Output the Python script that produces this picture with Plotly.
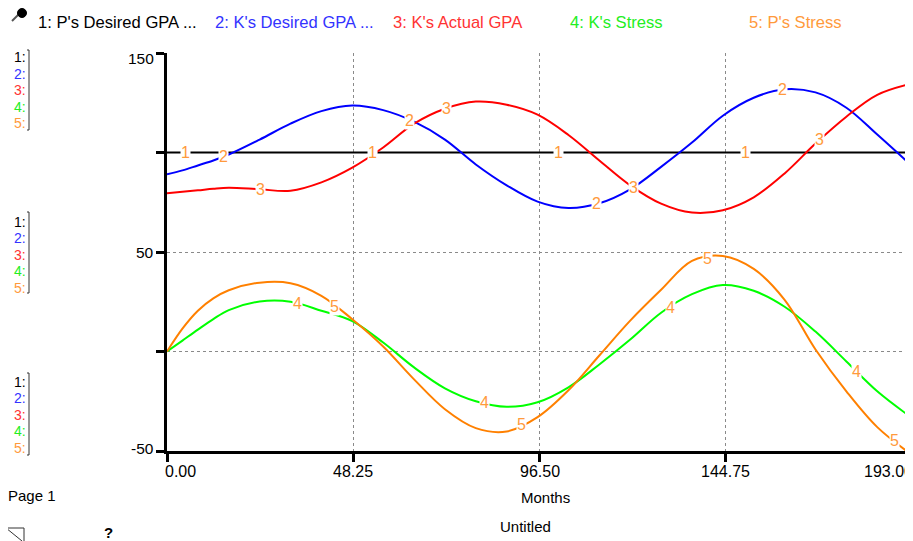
import numpy as np
import plotly.graph_objects as go

# ---------------- data ----------------
months = [0, 4, 8, 12, 16, 24, 32, 40, 48, 56, 64, 72, 80, 88, 96, 104, 112,
          120, 128, 136, 144, 152, 160, 168, 176, 184, 193]

p_desired_gpa = [100] * len(months)
k_desired_gpa = [89, 91, 93.5, 96, 99, 106.5, 114.5, 120.8, 123.6, 121.3, 115.5, 106.5,
                 94, 83.5, 75.3, 72.1, 74.5, 81.5, 92.8, 105, 118.5, 127.5,
                 131.8, 130.2, 122.5, 109, 93.2]
k_actual_gpa = [79.5, 80.3, 81, 81.8, 82.3, 81.5, 80.8, 85, 92.4, 102.5, 114.5, 122,
                125.6, 124, 119, 108.8, 96, 83.5, 74.3, 69.8, 71, 77.5,
                89.5, 104.5, 118, 129, 134.7]
k_stress = [0, 5.5, 11, 16.3, 20.8, 25.1, 25, 20.5, 15.3, 4.5, -8, -18.5, -25, -27.8,
            -25.5, -18, -6.5, 6, 19.5, 28.8, 33.4, 30.5, 22.5, 10, -5, -20, -33.4]
p_stress = [0, 11.5, 20.5, 26.7, 30.8, 34.6, 34.3, 28, 16.2, 2.5, -14, -29, -38.5, -40.2,
            -33, -19.5, -2, 15.5, 31, 45.5, 48, 41.5, 26, 1, -20, -38, -52]

series_names = ["1: P's Desired GPA ...", "2: K's Desired GPA ...",
                "3: K's Actual GPA", "4: K's Stress", "5: P's Stress"]
series_values = [p_desired_gpa, k_desired_gpa, k_actual_gpa, k_stress, p_stress]
line_colors = ["#000000", "#0000FF", "#FF0000", "#00FF00", "#FF8000"]
text_colors = ["#000000", "#3333FF", "#FF3333", "#22EE22", "#FF9A3C"]

x_tickvals = [0, 48.25, 96.5, 144.75, 193]
x_ticktext = ["0.00", "48.25", "96.50", "144.75", "193.00"]
y_tickvals = [-50, 0, 50, 100, 150]
y_ticktext = ["-50", "", "50", "", "150"]

# ---------------- layout geometry ----------------
# the page body has an 8px margin, so the figure is drawn 8px in from the window corner;
# all positions below are given in window pixels and converted.
OFF = 8
FW, FH = 913 - OFF, 541 - OFF
L, R, T, B = 167, 912, 53, 451          # plot area in window pixels
PW, PH = R - L, B - T
FONT = "Liberation Sans, Arial, sans-serif"
LABEL_ORANGE = "#FF9A3C"


def px(x):
    return (x - L) / PW


def py(y):
    return (B - y) / PH


fig = go.Figure()
for name, vals, col in zip(series_names, series_values, line_colors):
    fig.add_trace(go.Scatter(x=months, y=vals, mode="lines", name=name,
                             line=dict(color=col, width=2, shape="spline", smoothing=1.0),
                             hoverinfo="skip", showlegend=False))

annotations = []
# numbered labels along each curve
for s, vals in enumerate(series_values):
    start = 4.9 + 9.65 * s
    for k in range(4):
        t = start + 48.3 * k
        yv = float(np.interp(t, months, vals))
        annotations.append(dict(x=t, y=yv, xref="x", yref="y", text=str(s + 1),
                                showarrow=False, bgcolor="white", borderpad=0,
                                font=dict(family=FONT, size=16, color=LABEL_ORANGE)))

# x tick labels (first left-aligned, last right-aligned, as in the reference)
for i, (v, txt) in enumerate(zip(x_tickvals, x_ticktext)):
    if i == 0:
        anchor, shift = "left", -4
    elif i == len(x_tickvals) - 1:
        anchor, shift = "right", 3
    else:
        anchor, shift = "center", 0
    annotations.append(dict(x=v, y=py(471), xref="x", yref="paper", text=txt,
                            showarrow=False, xanchor=anchor, yanchor="middle", xshift=shift,
                            font=dict(family=FONT, size=16, color="black")))

# y tick labels
for v, txt in zip(y_tickvals, y_ticktext):
    if not txt:
        continue
    ypix = B - (v + 50) / 200 * PH
    ypix = min(max(ypix, T + 5), B - 3)
    annotations.append(dict(x=px(156), y=py(ypix), xref="paper", yref="paper", text=txt,
                            showarrow=False, xanchor="right", yanchor="middle",
                            font=dict(family=FONT, size=15.5, color="black")))

# top legend row
top_x = [36, 213, 391, 568, 747]
for name, col, xx in zip(series_names, text_colors, top_x):
    annotations.append(dict(x=px(xx), y=py(22), xref="paper", yref="paper", text=name,
                            showarrow=False, xanchor="left", yanchor="middle",
                            font=dict(family=FONT, size=16.6, color=col)))

# left stacked scale legends
shapes = []
for top_y, br_top, br_bot in [(57, 50, 130), (221.5, 212, 293), (381.5, 373, 455)]:
    for i, col in enumerate(text_colors):
        annotations.append(dict(x=px(12), y=py(top_y + 16.6 * i), xref="paper", yref="paper",
                                text=f"{i + 1}:", showarrow=False, xanchor="left",
                                yanchor="middle",
                                font=dict(family=FONT, size=14, color=col)))
    shapes.append(dict(type="path", xref="paper", yref="paper",
                       path=f"M {px(27)},{py(br_top)} L {px(29)},{py(br_top)} "
                            f"L {px(29)},{py(br_bot)} L {px(27)},{py(br_bot)}",
                       line=dict(color="#333333", width=1)))

# axis title, footer texts
annotations += [
    dict(x=px(545), y=py(497), xref="paper", yref="paper", text="Months", showarrow=False,
         xanchor="center", yanchor="middle", font=dict(family=FONT, size=15, color="black")),
    dict(x=px(525), y=py(526), xref="paper", yref="paper", text="Untitled", showarrow=False,
         xanchor="center", yanchor="middle", font=dict(family=FONT, size=15, color="black")),
    dict(x=px(6), y=py(495), xref="paper", yref="paper", text="Page 1", showarrow=False,
         xanchor="left", yanchor="middle", font=dict(family=FONT, size=15, color="black")),
    dict(x=px(108), y=py(532), xref="paper", yref="paper", text="<b>?</b>", showarrow=False,
         xanchor="center", yanchor="middle", font=dict(family=FONT, size=15, color="black")),
]

# pin icon (top-left) and corner icon (bottom-left)
shapes += [
    dict(type="line", xref="paper", yref="paper", x0=px(19), y0=py(14), x1=px(12), y1=py(21),
         line=dict(color="#555555", width=2)),
    dict(type="circle", xref="paper", yref="paper", x0=px(17.5), x1=px(26.5), y0=py(8.5),
         y1=py(17.5), fillcolor="black", line=dict(color="black", width=1)),
    dict(type="path", xref="paper", yref="paper",
         path=f"M {px(6)},{py(528)} L {px(24)},{py(528)} L {px(24)},{py(541)} "
              f"M {px(6)},{py(528)} L {px(22)},{py(541)}",
         line=dict(color="#333333", width=1)),
]

axis_common = dict(showline=True, linecolor="black", linewidth=3, ticks="outside",
                   tickwidth=3, tickcolor="black", showgrid=True, gridcolor="#8a8a8a",
                   griddash="dot", gridwidth=1, zeroline=False, automargin=False,
                   showticklabels=False)

fig.update_layout(
    width=FW, height=FH,
    margin=dict(l=L - OFF, r=FW - (R - OFF), t=T - OFF, b=FH - (B - OFF), pad=0),
    paper_bgcolor="white", plot_bgcolor="white",
    xaxis=dict(range=[0, 193], tickvals=x_tickvals, ticklen=8, **axis_common),
    yaxis=dict(range=[-50, 150], tickvals=y_tickvals, ticklen=8, **axis_common),
    annotations=annotations,
    shapes=shapes,
    showlegend=False,
)

fig.write_html("out.html")
